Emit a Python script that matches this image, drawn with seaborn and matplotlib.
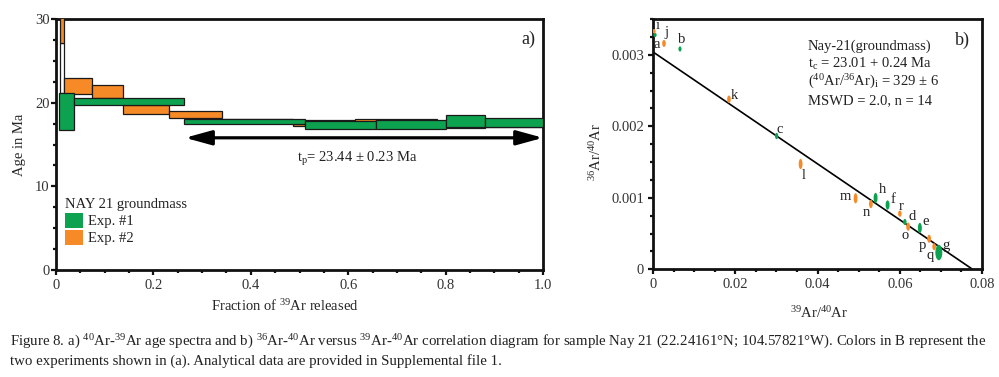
import matplotlib
matplotlib.use("Agg")
import numpy as np
import pandas as pd
import seaborn as sns
import matplotlib.pyplot as plt
from matplotlib.patches import Patch, Ellipse
from matplotlib.ticker import MultipleLocator, FixedLocator

# ---------------- data ----------------
# (a) age spectra: step edges (fraction of 39Ar), plateau ages and 1-sigma half-heights (Ma)
exp1_left = [0.006, 0.036, 0.263, 0.512, 0.658, 0.800, 0.880]
exp1_right = [0.036, 0.263, 0.512, 0.658, 0.800, 0.880, 1.000]
exp1_age = [18.95, 20.10, 17.80, 17.35, 17.40, 17.80, 17.58]
exp1_err = [2.25, 0.40, 0.30, 0.45, 0.50, 0.70, 0.53]

exp2_left = [0.008, 0.017, 0.074, 0.137, 0.233, 0.340, 0.486, 0.512, 0.614, 0.658, 0.783, 0.880]
exp2_right = [0.017, 0.074, 0.137, 0.233, 0.340, 0.486, 0.512, 0.614, 0.658, 0.783, 0.880, 1.000]
exp2_age = [31.50, 22.00, 21.30, 19.20, 18.60, 17.90, 17.33, 17.60, 17.65, 17.70, 17.43, 17.55]
exp2_err = [4.40, 1.00, 0.80, 0.50, 0.40, 0.20, 0.17, 0.30, 0.35, 0.35, 0.43, 0.40]

# unfilled (excluded) step box
open_left, open_right, open_lo, open_hi = [0.008], [0.017], [21.2], [27.1]

plateau_from, plateau_to, plateau_y = 0.265, 1.0, 15.8

# (b) inverse isochron points
labels1 = ["a", "b", "c", "d", "e", "f", "g", "h"]
x1 = [0.00049, 0.00656, 0.03006, 0.06124, 0.06489, 0.05704, 0.06950, 0.05412]
y1 = [0.003277, 0.003081, 0.001864, 0.000662, 0.000578, 0.000899, 0.000235, 0.000997]
sx1 = [0.00040, 0.00038, 0.00040, 0.00042, 0.00048, 0.00048, 0.00085, 0.00048]
sy1 = [0.000030, 0.000036, 0.000044, 0.000042, 0.000072, 0.000065, 0.000108, 0.000072]

labels2 = ["i", "j", "k", "l", "m", "n", "o", "p", "q", "r"]
x2 = [0.00024, 0.00267, 0.01847, 0.03589, 0.04926, 0.05298, 0.06204, 0.06714, 0.06836, 0.06002]
y2 = [0.003329, 0.003158, 0.002378, 0.001473, 0.000993, 0.000913, 0.000596, 0.000427, 0.000316, 0.000778]
sx2 = [0.00040, 0.00044, 0.00044, 0.00046, 0.00046, 0.00046, 0.00046, 0.00046, 0.00044, 0.00042]
sy2 = [0.000032, 0.000049, 0.000052, 0.000072, 0.000072, 0.000058, 0.000058, 0.000056, 0.000049, 0.000044]

# label offsets (points)
off = {"a": (1, -7), "b": (1, 7), "c": (2, 5), "d": (5, 4), "e": (4, 5), "f": (4, 4),
       "g": (5, 5), "h": (5, 6), "i": (3, 4), "j": (2, 8), "k": (4, 3), "l": (2, -8),
       "m": (-7, 1), "n": (-3, -6), "o": (-2, -6), "p": (-5, -5), "q": (-3, -6), "r": (1, 5)}

fit_y_intercept = 1 / 329.0
fit_x_intercept = 0.0777

GREEN = "#0DA24F"
ORANGE = "#F58A27"
EDGE = "#1a1a1a"

# ---------------- style ----------------
sns.set_theme(style="ticks")
plt.rcParams.update({
    "font.family": ["Liberation Serif", "DejaVu Serif"],
    "mathtext.fontset": "custom",
    "mathtext.rm": "Liberation Serif",
    "mathtext.it": "Liberation Serif:italic",
    "mathtext.default": "regular",
    "axes.linewidth": 2.0,
    "axes.edgecolor": "#111111",
    "text.color": "#222222",
    "xtick.color": "#111111",
    "ytick.color": "#111111",
    "xtick.labelcolor": "#333333",
    "ytick.labelcolor": "#333333",
})

fig = plt.figure(figsize=(9.99, 3.77), dpi=100)
fig.patch.set_facecolor("white")
axA = fig.add_axes([56 / 999, 1 - 270 / 377, 487 / 999, 251 / 377])
axB = fig.add_axes([653 / 999, 1 - 269.3 / 377, 329 / 999, 250.3 / 377])

# ---------------- panel a ----------------
l = np.array(open_left); r = np.array(open_right)
axA.bar(l, np.array(open_hi) - np.array(open_lo), bottom=open_lo, width=r - l, align="edge",
        color="white", edgecolor=EDGE, linewidth=0.9, zorder=2)
l = np.array(exp2_left); r = np.array(exp2_right)
a = np.array(exp2_age); e = np.array(exp2_err)
axA.bar(l, 2 * e, bottom=a - e, width=r - l, align="edge", color=ORANGE,
        edgecolor=EDGE, linewidth=0.9, zorder=3)
l = np.array(exp1_left); r = np.array(exp1_right)
a = np.array(exp1_age); e = np.array(exp1_err)
axA.bar(l, 2 * e, bottom=a - e, width=r - l, align="edge", color=GREEN,
        edgecolor=EDGE, linewidth=0.9, zorder=4)

axA.annotate("", xy=(plateau_from, plateau_y), xytext=(plateau_to, plateau_y),
             arrowprops=dict(arrowstyle="<|-|>,head_length=0.8,head_width=0.22",
                             color="black", lw=2.3, mutation_scale=20,
                             shrinkA=0, shrinkB=0), zorder=5)
axA.text(0.494, 13.3, "t$_{p}$= 23.44 ± 0.23 Ma", fontsize=10.5, va="center", ha="left")
axA.text(0.985, 27.6, "a)", fontsize=13, ha="right", va="center")

axA.set_xlim(0, 1.0)
axA.set_ylim(0, 30)
axA.xaxis.set_major_locator(FixedLocator([0, 0.2, 0.4, 0.6, 0.8, 1.0]))
axA.set_xticklabels(["0", "0.2", "0.4", "0.6", "0.8", "1.0"])
axA.xaxis.set_minor_locator(MultipleLocator(0.05))
axA.yaxis.set_major_locator(FixedLocator([0, 10, 20, 30]))
axA.yaxis.set_minor_locator(MultipleLocator(2.5))
axA.tick_params(which="both", direction="out", width=1.6, labelsize=10.5)
axA.tick_params(axis="y", which="major", length=3.5, pad=1)
axA.tick_params(axis="x", which="major", length=3.5, pad=3)
axA.tick_params(which="minor", length=2.5)
axA.set_xlabel("Fraction of $^{39}$Ar released", fontsize=10.5)
axA.xaxis.set_label_coords(0.47, -0.112)
axA.set_ylabel("Age in Ma", fontsize=10.5)
axA.yaxis.set_label_coords(-0.062, 0.5)
for s in axA.spines.values():
    s.set_linewidth(2.0)

handles = [Patch(facecolor=GREEN, edgecolor="none"), Patch(facecolor=ORANGE, edgecolor="none")]
leg = axA.legend(handles, ["Exp. #1", "Exp. #2"], title="NAY 21 groundmass",
                 loc="upper left", bbox_to_anchor=(0.018, 0.285), frameon=False,
                 fontsize=10.5, title_fontsize=10.5, borderpad=0, borderaxespad=0,
                 handlelength=1.25, handleheight=1.15, handletextpad=0.35,
                 labelspacing=0.12, alignment="left")

# ---------------- panel b ----------------
df = pd.DataFrame({
    "x": x1 + x2, "y": y1 + y2, "sx": sx1 + sx2, "sy": sy1 + sy2,
    "step": labels1 + labels2,
    "exp": ["Exp. #1"] * len(x1) + ["Exp. #2"] * len(x2),
})
fit = pd.DataFrame({"x": [0.0, fit_x_intercept], "y": [fit_y_intercept, 0.0]})
sns.lineplot(data=fit, x="x", y="y", color="black", lw=1.2, ax=axB, zorder=2)
cmap = {"Exp. #1": GREEN, "Exp. #2": ORANGE}
for _, row in df.iterrows():
    axB.add_patch(Ellipse((row.x, row.y), 2 * row.sx, 2 * row.sy,
                          facecolor=cmap[row.exp], edgecolor="none", zorder=3))
    dx, dy = off[row.step]
    axB.annotate(row.step, (row.x, row.y), xytext=(dx, dy), textcoords="offset points",
                 fontsize=10.5, ha="center", va="center", zorder=4)

axB.set_xlim(0, 0.08)
axB.set_ylim(0, 0.0035)
axB.xaxis.set_major_locator(FixedLocator([0, 0.02, 0.04, 0.06, 0.08]))
axB.set_xticklabels(["0", "0.02", "0.04", "0.06", "0.08"])
axB.xaxis.set_minor_locator(MultipleLocator(0.005))
axB.yaxis.set_major_locator(FixedLocator([0, 0.001, 0.002, 0.003]))
axB.set_yticklabels(["0", "0.001", "0.002", "0.003"])
axB.yaxis.set_minor_locator(MultipleLocator(0.00025))
axB.tick_params(which="both", direction="out", width=1.6, labelsize=10.5)
axB.tick_params(which="major", length=3.5, pad=3)
axB.tick_params(which="minor", length=2.5)
axB.set_xlabel("$^{39}$Ar/$^{40}$Ar", fontsize=10.5)
axB.xaxis.set_label_coords(0.505, -0.145)
axB.set_ylabel("$^{36}$Ar/$^{40}$Ar", fontsize=10.5)
axB.yaxis.set_label_coords(-0.15, 0.47)
for s in axB.spines.values():
    s.set_linewidth(2.0)

stats = ["Nay-21(groundmass)",
         "t$_{c}$ = 23.01 + 0.24 Ma",
         "($^{40}$Ar/$^{36}$Ar)$_{i}$ = 329 ± 6",
         "MSWD = 2.0, n = 14"]
for txt, yy in zip(stats, [0.892, 0.820, 0.748, 0.672]):
    axB.text(0.471, yy, txt, transform=axB.transAxes, fontsize=10.5, va="center", ha="left")
axB.text(0.942, 0.916, "b)", transform=axB.transAxes, fontsize=13, ha="center", va="center")

# ---------------- caption ----------------
cap1 = ("Figure 8. a) $^{40}$Ar-$^{39}$Ar age spectra and b) $^{36}$Ar-$^{40}$Ar versus "
        "$^{39}$Ar-$^{40}$Ar correlation diagram for sample Nay 21 (22.24161°N; 104.57821°W). "
        "Colors in B represent the")
cap2 = "two experiments shown in (a). Analytical data are provided in Supplemental file 1."
fig.text(10 / 999, 1 - 342 / 377, cap1, fontsize=10.7, ha="left", va="center")
fig.text(10 / 999, 1 - 361 / 377, cap2, fontsize=10.7, ha="left", va="center")

fig.savefig("out.png", dpi=100, facecolor="white")
